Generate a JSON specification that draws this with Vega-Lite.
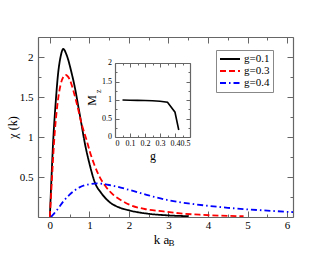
{
  "$schema": "https://vega.github.io/schema/vega-lite/v6.json",
  "width": 255,
  "height": 180,
  "autosize": "none",
  "padding": {"left": 38, "top": 37, "right": 37, "bottom": 38},
  "config": {
    "font": "Liberation Serif",
    "view": {"stroke": null},
    "axis": {
      "grid": false,
      "domainColor": "#666666",
      "tickColor": "#666666",
      "domainWidth": 1.2,
      "tickWidth": 1,
      "labelColor": "#000000",
      "titleColor": "#000000",
      "labelFont": "Liberation Serif",
      "titleFont": "Liberation Serif",
      "titleFontWeight": "normal",
      "labelFontSize": 11,
      "titleFontSize": 13,
      "labelOverlap": false,
      "format": "~g"
    }
  },
  "layer": [
    {
      "data": {
        "values": [
          {"k": 0, "chi": 0, "g": "g=0.1"},
          {"k": 0.04, "chi": 0.48, "g": "g=0.1"},
          {"k": 0.085, "chi": 0.96, "g": "g=0.1"},
          {"k": 0.14, "chi": 1.38, "g": "g=0.1"},
          {"k": 0.21, "chi": 1.8, "g": "g=0.1"},
          {"k": 0.27, "chi": 2.0, "g": "g=0.1"},
          {"k": 0.34, "chi": 2.1, "g": "g=0.1"},
          {"k": 0.42, "chi": 2.03, "g": "g=0.1"},
          {"k": 0.55, "chi": 1.8, "g": "g=0.1"},
          {"k": 0.64, "chi": 1.6, "g": "g=0.1"},
          {"k": 0.72, "chi": 1.38, "g": "g=0.1"},
          {"k": 0.8, "chi": 1.16, "g": "g=0.1"},
          {"k": 0.87, "chi": 0.96, "g": "g=0.1"},
          {"k": 1.0, "chi": 0.67, "g": "g=0.1"},
          {"k": 1.14, "chi": 0.43, "g": "g=0.1"},
          {"k": 1.3, "chi": 0.3, "g": "g=0.1"},
          {"k": 1.5, "chi": 0.19, "g": "g=0.1"},
          {"k": 1.75, "chi": 0.12, "g": "g=0.1"},
          {"k": 2.03, "chi": 0.08, "g": "g=0.1"},
          {"k": 2.5, "chi": 0.04, "g": "g=0.1"},
          {"k": 3.0, "chi": 0.02, "g": "g=0.1"},
          {"k": 3.5, "chi": 0.01, "g": "g=0.1"},
          {"k": 0, "chi": 0, "g": "g=0.3"},
          {"k": 0.05, "chi": 0.45, "g": "g=0.3"},
          {"k": 0.11, "chi": 0.96, "g": "g=0.3"},
          {"k": 0.185, "chi": 1.38, "g": "g=0.3"},
          {"k": 0.27, "chi": 1.65, "g": "g=0.3"},
          {"k": 0.34, "chi": 1.75, "g": "g=0.3"},
          {"k": 0.4, "chi": 1.775, "g": "g=0.3"},
          {"k": 0.5, "chi": 1.72, "g": "g=0.3"},
          {"k": 0.6, "chi": 1.57, "g": "g=0.3"},
          {"k": 0.7, "chi": 1.38, "g": "g=0.3"},
          {"k": 0.8, "chi": 1.17, "g": "g=0.3"},
          {"k": 0.93, "chi": 0.96, "g": "g=0.3"},
          {"k": 1.01, "chi": 0.82, "g": "g=0.3"},
          {"k": 1.12, "chi": 0.66, "g": "g=0.3"},
          {"k": 1.24, "chi": 0.52, "g": "g=0.3"},
          {"k": 1.4, "chi": 0.39, "g": "g=0.3"},
          {"k": 1.6, "chi": 0.28, "g": "g=0.3"},
          {"k": 1.8, "chi": 0.21, "g": "g=0.3"},
          {"k": 2.03, "chi": 0.15, "g": "g=0.3"},
          {"k": 2.4, "chi": 0.1, "g": "g=0.3"},
          {"k": 2.87, "chi": 0.07, "g": "g=0.3"},
          {"k": 3.3, "chi": 0.045, "g": "g=0.3"},
          {"k": 3.8, "chi": 0.028, "g": "g=0.3"},
          {"k": 4.3, "chi": 0.017, "g": "g=0.3"},
          {"k": 4.9, "chi": 0.01, "g": "g=0.3"},
          {"k": 0.03, "chi": 0, "g": "g=0.4"},
          {"k": 0.1, "chi": 0.04, "g": "g=0.4"},
          {"k": 0.2, "chi": 0.1, "g": "g=0.4"},
          {"k": 0.35, "chi": 0.2, "g": "g=0.4"},
          {"k": 0.5, "chi": 0.28, "g": "g=0.4"},
          {"k": 0.75, "chi": 0.37, "g": "g=0.4"},
          {"k": 1.0, "chi": 0.41, "g": "g=0.4"},
          {"k": 1.2, "chi": 0.42, "g": "g=0.4"},
          {"k": 1.5, "chi": 0.4, "g": "g=0.4"},
          {"k": 2.0, "chi": 0.34, "g": "g=0.4"},
          {"k": 2.5, "chi": 0.27, "g": "g=0.4"},
          {"k": 3.0, "chi": 0.21, "g": "g=0.4"},
          {"k": 3.5, "chi": 0.17, "g": "g=0.4"},
          {"k": 4.0, "chi": 0.14, "g": "g=0.4"},
          {"k": 4.5, "chi": 0.115, "g": "g=0.4"},
          {"k": 5.0, "chi": 0.095, "g": "g=0.4"},
          {"k": 5.5, "chi": 0.08, "g": "g=0.4"},
          {"k": 6.0, "chi": 0.065, "g": "g=0.4"},
          {"k": 6.3, "chi": 0.058, "g": "g=0.4"}
        ]
      },
      "mark": {"type": "line", "clip": true, "strokeWidth": 1.8, "interpolate": "monotone"},
      "encoding": {
        "x": {
          "field": "k", "type": "quantitative",
          "scale": {"domain": [-0.3, 6.15], "nice": false, "zero": false},
          "axis": {
            "orient": "bottom",
            "values": [0, 0.5, 1, 1.5, 2, 2.5, 3, 3.5, 4, 4.5, 5, 5.5, 6],
            "labelExpr": "datum.value % 1 === 0 ? datum.label : ''",
            "tickSize": {"condition": {"test": "datum.value % 1 !== 0", "value": -3}, "value": -6},
            "labelPadding": 8,
            "title": "k a",
            "titleX": 123,
            "titlePadding": 0
          }
        },
        "y": {
          "field": "chi", "type": "quantitative",
          "scale": {"domain": [0, 2.25], "nice": false},
          "axis": {
            "orient": "left",
            "values": [0, 0.25, 0.5, 0.75, 1, 1.25, 1.5, 1.75, 2, 2.25],
            "labelExpr": "(datum.value * 2) % 1 === 0 && datum.value > 0.1 && datum.value < 2.1 ? datum.label : ''",
            "tickSize": {"condition": {"test": "(datum.value * 2) % 1 !== 0", "value": -3}, "value": -6},
            "labelPadding": 11,
            "minExtent": 0,
            "title": "χ (k)",
            "titleFontSize": 12,
            "titlePadding": 0
          }
        },
        "color": {
          "field": "g", "type": "nominal",
          "scale": {"domain": ["g=0.1", "g=0.3", "g=0.4"], "range": ["#000000", "#ff0000", "#0000ff"]},
          "legend": {
            "title": null, "orient": "none", "legendX": 178, "legendY": 13,
            "symbolType": "stroke", "symbolSize": 400, "symbolStrokeWidth": 1.8,
            "labelFontSize": 11, "labelFont": "Liberation Serif", "clipHeight": 12,
            "rowPadding": 0, "padding": 3, "strokeColor": "#888888", "fillColor": "#ffffff", "labelOffset": 3
          }
        },
        "strokeDash": {
          "field": "g", "type": "nominal",
          "scale": {"domain": ["g=0.1", "g=0.3", "g=0.4"], "range": [[1, 0], [6, 3], [6, 3, 1.5, 3]]},
          "legend": {
            "title": null, "orient": "none", "legendX": 178, "legendY": 13,
            "symbolType": "stroke", "symbolSize": 400, "symbolStrokeWidth": 1.8,
            "labelFontSize": 11, "labelFont": "Liberation Serif", "clipHeight": 12,
            "rowPadding": 0, "padding": 3, "strokeColor": "#888888", "fillColor": "#ffffff", "labelOffset": 3
          }
        }
      }
    },
    {
      "data": {"values": [{"k": 0, "chi": 0}]},
      "mark": {"type": "point", "opacity": 0},
      "encoding": {
        "x": {
          "field": "k", "type": "quantitative",
          "scale": {"domain": [-0.3, 6.15], "nice": false, "zero": false},
          "axis": {
            "orient": "top",
            "values": [0, 0.5, 1, 1.5, 2, 2.5, 3, 3.5, 4, 4.5, 5, 5.5, 6],
            "labels": false,
            "tickSize": {"condition": {"test": "datum.value % 1 !== 0", "value": -3}, "value": -6},
            "title": null
          }
        },
        "y": {
          "field": "chi", "type": "quantitative",
          "scale": {"domain": [0, 2.25], "nice": false},
          "axis": {
            "orient": "right",
            "values": [0, 0.25, 0.5, 0.75, 1, 1.25, 1.5, 1.75, 2, 2.25],
            "labels": false,
            "tickSize": {"condition": {"test": "(datum.value * 2) % 1 !== 0", "value": -3}, "value": -6},
            "title": null
          }
        }
      }
    },
    {
      "data": {"values": [{"t": "B"}]},
      "mark": {"type": "text", "fontSize": 9, "font": "Liberation Serif", "align": "left", "baseline": "middle"},
      "encoding": {
        "x": {"datum": 3.0, "type": "quantitative", "scale": {"domain": [-0.3, 6.15], "nice": false, "zero": false}, "axis": null},
        "y": {"datum": -0.33, "type": "quantitative", "scale": {"domain": [0, 2.25], "nice": false}, "axis": null},
        "text": {"field": "t"}
      }
    },
    {
      "data": {
        "values": [
          {"g": 0.05, "m": 1.0},
          {"g": 0.1, "m": 0.995},
          {"g": 0.15, "m": 0.99},
          {"g": 0.2, "m": 0.985},
          {"g": 0.25, "m": 0.978},
          {"g": 0.3, "m": 0.965},
          {"g": 0.35, "m": 0.94},
          {"g": 0.4, "m": 0.67},
          {"g": 0.425, "m": 0.19}
        ]
      },
      "mark": {"type": "line", "color": "#000000", "strokeWidth": 1.6},
      "encoding": {
        "x": {
          "field": "g", "type": "quantitative",
          "scale": {"domain": [0, 0.5], "range": [77, 152], "nice": false, "zero": false},
          "axis": {
            "orient": "bottom", "offset": -80,
            "values": [0, 0.05, 0.1, 0.15, 0.2, 0.25, 0.3, 0.35, 0.4, 0.45, 0.5],
            "labelExpr": "abs(datum.value * 10 - round(datum.value * 10)) < 0.001 ? datum.label : ''",
            "tickSize": {"condition": {"test": "abs(datum.value * 10 - round(datum.value * 10)) > 0.001", "value": -2}, "value": -4},
            "labelPadding": 6,
            "labelFontSize": 8,
            "title": "g",
            "titleFontSize": 12,
            "titlePadding": 1
          }
        },
        "y": {
          "field": "m", "type": "quantitative",
          "scale": {"domain": [0, 2], "range": [100, 26], "nice": false},
          "axis": {
            "orient": "left", "offset": -77,
            "values": [0, 0.5, 1, 1.5, 2],
            "ticks": false,
            "labels": false,
            "minExtent": 0,
            "title": "M",
            "titleFontSize": 12,
            "titlePadding": 17
          }
        }
      }
    },
    {
      "data": {"values": [{"g": 0, "m": 0}]},
      "mark": {"type": "point", "opacity": 0},
      "encoding": {
        "x": {
          "field": "g", "type": "quantitative",
          "scale": {"domain": [0, 0.5], "range": [77, 152], "nice": false, "zero": false},
          "axis": {
            "orient": "top", "offset": -26,
            "values": [0, 0.05, 0.1, 0.15, 0.2, 0.25, 0.3, 0.35, 0.4, 0.45, 0.5],
            "labels": false,
            "tickSize": {"condition": {"test": "abs(datum.value * 10 - round(datum.value * 10)) > 0.001", "value": -2}, "value": -4},
            "title": null
          }
        },
        "y": {
          "field": "m", "type": "quantitative",
          "scale": {"domain": [0, 2], "range": [100, 26], "nice": false},
          "axis": {
            "orient": "right", "offset": -103,
            "values": [0, 0.25, 0.5, 0.75, 1, 1.25, 1.5, 1.75, 2],
            "labels": false,
            "tickSize": {"condition": {"test": "(datum.value * 2) % 1 !== 0", "value": -2}, "value": -4},
            "title": null
          }
        }
      }
    },
    {
      "data": {"values": [{"g": 0, "m": 0}]},
      "mark": {"type": "point", "opacity": 0},
      "encoding": {
        "y": {
          "field": "m", "type": "quantitative",
          "scale": {"domain": [0, 2], "range": [100, 26], "nice": false},
          "axis": {
            "orient": "left", "offset": -77,
            "values": [0, 0.25, 0.5, 0.75, 1, 1.25, 1.5, 1.75, 2],
            "labels": false,
            "domain": false,
            "tickSize": {"condition": {"test": "(datum.value * 2) % 1 !== 0", "value": -2}, "value": -4},
            "title": null
          }
        }
      }
    },
    {
      "data": {
        "values": [
          {"m": 0, "t": "0"},
          {"m": 0.5, "t": "0.5"},
          {"m": 1, "t": "1"},
          {"m": 1.5, "t": "1.5"},
          {"m": 2, "t": "2"}
        ]
      },
      "mark": {"type": "text", "fontSize": 8, "font": "Liberation Serif", "color": "#000000", "align": "right", "baseline": "middle"},
      "encoding": {
        "x": {"datum": -0.02, "type": "quantitative", "scale": {"domain": [0, 0.5], "range": [77, 152], "nice": false, "zero": false}, "axis": null},
        "y": {"field": "m", "type": "quantitative", "scale": {"domain": [0, 2], "range": [100, 26], "nice": false}, "axis": null},
        "text": {"field": "t"}
      }
    },
    {
      "data": {"values": [{"t": "z"}]},
      "mark": {"type": "text", "fontSize": 8, "font": "Liberation Serif", "angle": 270, "align": "left", "baseline": "middle"},
      "encoding": {
        "x": {"datum": -0.11, "type": "quantitative", "scale": {"domain": [0, 0.5], "range": [77, 152], "nice": false, "zero": false}, "axis": null},
        "y": {"datum": 1.19, "type": "quantitative", "scale": {"domain": [0, 2], "range": [100, 26], "nice": false}, "axis": null},
        "text": {"field": "t"}
      }
    }
  ],
  "resolve": {
    "scale": {"x": "independent", "y": "independent", "color": "independent", "strokeDash": "independent"},
    "axis": {"x": "independent", "y": "independent"}
  }
}
